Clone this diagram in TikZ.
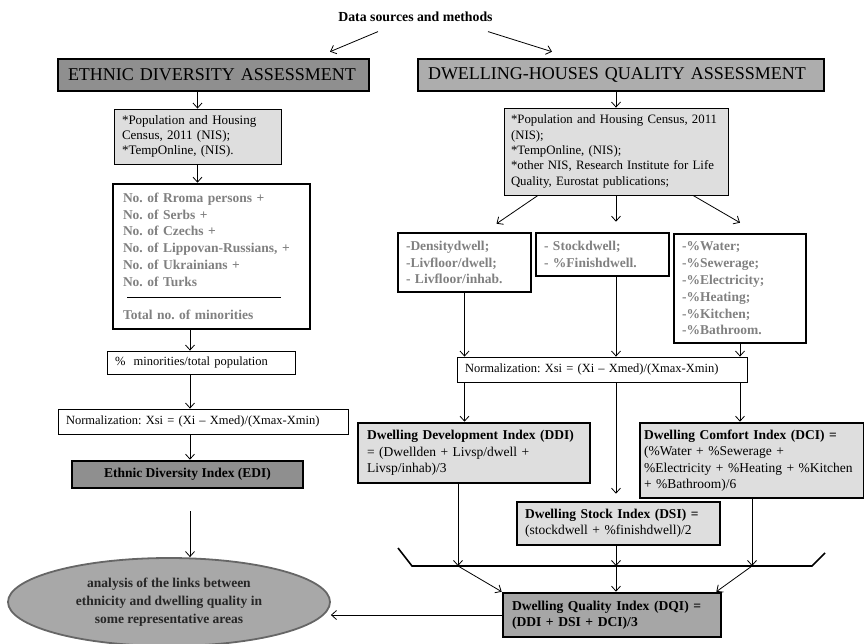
\documentclass[tikz,border=0pt]{standalone}
\usepackage{fontspec}
\setmainfont{Liberation Serif}
\usepackage{xcolor}
\usepackage{tikz}
\usetikzlibrary{arrows.meta,shapes.geometric}
\frenchspacing

\definecolor{darkbox}{gray}{0.56}
\definecolor{midbox}{gray}{0.68}
\definecolor{lightbox}{gray}{0.87}
\definecolor{qualbox}{gray}{0.65}
\definecolor{ellbox}{gray}{0.66}
\definecolor{itemtext}{gray}{0.5}

\begin{document}
\begin{tikzpicture}[x=1pt,y=-1pt,>={Straight Barb[length=5pt,width=9pt]},
  box/.style={draw,line width=0.8pt,align=left,inner ysep=0pt},
  thickbox/.style={box,line width=2.6pt},
  items/.style={thickbox,text=itemtext,font=\bfseries\fontsize{13.5}{16.8}\selectfont},
  head/.style={thickbox,inner xsep=10pt,minimum height=32pt,font=\fontsize{18}{20}\selectfont},
  formula/.style={thickbox,fill=lightbox,font=\fontsize{13.5}{16.4}\selectfont},
  every path/.style={line width=0.8pt}]
\useasboundingbox (0,0) rectangle (864,643);

% titles
\node[font=\bfseries\fontsize{13.8}{16}\selectfont] (title) at (415.5,17) {Data sources and methods};
\node[head,fill=darkbox,text width=291pt] (eda) at (213.5,75) {ETHNIC DIVERSITY ASSESSMENT};
\node[head,fill=midbox,text width=386pt] (dhqa) at (621,75) {DWELLING-HOUSES QUALITY ASSESSMENT};

% ethnic side
\node[box,fill=lightbox,text width=151pt,inner xsep=8pt,minimum height=55pt,
  font=\fontsize{13}{15}\selectfont] (censA) at (197.5,136.5)
  {{*}Population and Housing\\Census, 2011 (NIS);\\{*}TempOnline, (NIS).};
\node[items,text width=177pt,inner xsep=10pt,minimum height=145pt] (minor) at (211.5,256.5)
  {No. of Rroma persons +\\No. of Serbs +\\No. of Czechs +\\No. of Lippovan-Russians, +\\
   No. of Ukrainians +\\No. of Turks\\\hspace*{4pt}{\color{black}\rule[5pt]{154pt}{1pt}}\\
   Total no. of minorities};
\node[box,text width=172pt,inner xsep=8pt,minimum height=23pt,
  font=\fontsize{12.5}{15}\selectfont] (pctmin) at (201,362.5) {\%~~minorities/total population};
\node[box,text width=274pt,inner xsep=8pt,minimum height=25pt,
  font=\fontsize{12.5}{15}\selectfont] (normA) at (203,421.5)
  {Normalization: Xsi = (Xi -- Xmed)/(Xmax-Xmin)};
\node[thickbox,fill=darkbox,minimum width=231pt,minimum height=27pt,align=center,
  font=\bfseries\fontsize{13.5}{16}\selectfont] (edi) at (187.5,474.5) {Ethnic Diversity Index (EDI)};
\node[ellipse,draw=black!60,line width=1.8pt,fill=ellbox,minimum width=322pt,minimum height=88pt,
  align=center,text=black!85,font=\bfseries\fontsize{13.5}{18}\selectfont] (ell) at (169,602)
  {analysis of the links between\\ethnicity and dwelling quality in\\some representative areas};

% dwelling side
\node[box,fill=lightbox,text width=210pt,inner xsep=7pt,minimum height=87pt,
  font=\fontsize{12.8}{15.3}\selectfont] (censB) at (616,151.5)
  {{*}Population and Housing Census, 2011\\(NIS);\\{*}TempOnline, (NIS);\\
   {*}other NIS, Research Institute for Life\\Quality, Eurostat publications;};
\node[items,text width=117pt,inner xsep=8pt,minimum height=59pt] (dw1) at (464.5,262.5)
  {-Densitydwell;\\-Livfloor/dwell;\\- Livfloor/inhab.};
\node[items,text width=117pt,inner xsep=8pt,minimum height=43pt] (dw2) at (602.5,254.5)
  {- Stockdwell;\\- \%Finishdwell.};
\node[items,text width=116pt,inner xsep=8pt,minimum height=109pt] (dw3) at (740,288.5)
  {-\%Water;\\-\%Sewerage;\\-\%Electricity;\\-\%Heating;\\-\%Kitchen;\\-\%Bathroom.};
\node[box,text width=274pt,inner xsep=8pt,minimum height=25pt,
  font=\fontsize{12.5}{15}\selectfont] (normB) at (602,369.5)
  {Normalization: Xsi = (Xi -- Xmed)/(Xmax-Xmin)};
\node[formula,text width=214pt,inner xsep=9pt,minimum height=60pt] (ddi) at (474,453)
  {\textbf{Dwelling Development Index (DDI)}\\= (Dwellden + Livsp/dwell +\\Livsp/inhab)/3};
\node[formula,text width=216pt,inner xsep=4pt,minimum height=75pt] (dci) at (752,460.5)
  {\textbf{Dwelling Comfort Index (DCI) =}\\(\%Water + \%Sewerage +\\
   \%Electricity + \%Heating + \%Kitchen\\+ \%Bathroom)/6};
\node[formula,text width=187pt,inner xsep=8pt,minimum height=43pt] (dsi) at (618.5,523.5)
  {\textbf{Dwelling Stock Index (DSI) =}\\(stockdwell + \%finishdwell)/2};
\node[formula,fill=qualbox,text width=200pt,inner xsep=9pt,minimum height=44pt,
  font=\bfseries\fontsize{13.6}{16.4}\selectfont] (dqi) at (612,615)
  {Dwelling Quality Index (DQI) =\\(DDI + DSI + DCI)/3};

% collecting line
\coordinate (busL) at (412,566);
\coordinate (busR) at (812,566);
\draw[line width=1.6pt] (398,548) -- (busL) -- (busR) -- (825,553);

% connectors
\draw[->] ([xshift=-37.5pt,yshift=-6pt]title.south) -- ([xshift=116.5pt,yshift=6pt]eda.north);
\draw[->] ([xshift=72.5pt,yshift=-6pt]title.south) -- ([xshift=-69pt,yshift=6pt]dhqa.north);
\draw[->] (censA.north |- eda.south) -- (censA.north);
\draw[->] (censA.south) -- (censA.south |- minor.north);
\draw[->] ([xshift=-11pt]pctmin.north |- minor.south) -- ([xshift=-11pt]pctmin.north);
\draw[->] ([xshift=-11pt]pctmin.south) -- ([xshift=-11pt]pctmin.south |- normA.north);
\draw[->] ([xshift=-13pt]normA.south) -- ([xshift=-13pt]normA.south |- edi.north);
\draw[->] ([xshift=2.5pt,yshift=-22pt]edi.south) -- ([xshift=2.5pt]edi.south |- ell.north);

\draw[->] (censB.north |- dhqa.south) -- (censB.north);
\draw[->] ([xshift=-78pt]censB.south) -- ([xshift=32pt,yshift=8pt]dw1.north);
\draw[->] (censB.south) -- ([yshift=10pt]censB.south |- dw2.north);
\draw[->] ([xshift=77pt]censB.south) -- ([yshift=10pt]dw3.north);
\draw[->] (dw1.south) -- (dw1.south |- normB.north);
\draw[->] (censB.south |- dw2.south) -- (censB.south |- normB.north);
\draw[->] (dw3.south) -- (dw3.south |- normB.north);
\draw[->] (dw1.south |- normB.south) -- (dw1.south |- ddi.north);
\draw[->] (censB.south |- normB.south) -- ([yshift=7pt]censB.south |- dsi.north);
\draw[->] (dw3.south |- normB.south) -- (dw3.south |- dci.north);

\draw[->] ([xshift=-16pt]ddi.south) -- ([xshift=-16pt]ddi.south |- busL);
\draw[->] (censB.south |- dsi.south) -- (censB.south |- busL);
\draw[->] (dci.south) -- (dci.south |- busL);
\draw[->] ([xshift=-16pt]ddi.south |- busL) -- (dqi.north west);
\draw[->] (censB.south |- busL) -- (censB.south |- dqi.north);
\draw[->] (dci.south |- busL) -- ([xshift=-6pt]dqi.north east);
\draw[->] (dqi.west) -- (dqi.west -| ell.east);
\end{tikzpicture}
\end{document}
